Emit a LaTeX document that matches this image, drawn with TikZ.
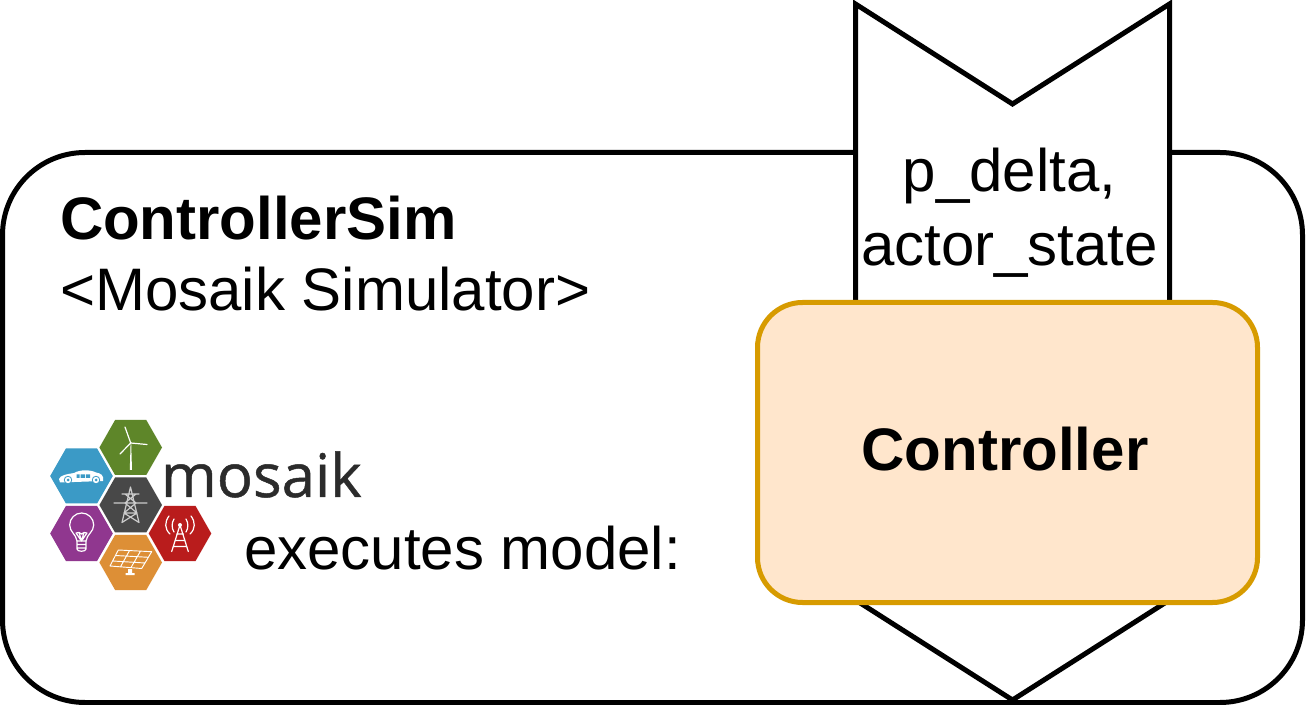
\documentclass[tikz,border=0pt]{standalone}
\usepackage{fontspec}
\setmainfont{Liberation Sans}
\newfontfamily\logofont[FakeBold=0.8]{Open Sans}
\definecolor{ctrlfill}{HTML}{FFE6CC}
\definecolor{ctrlline}{HTML}{D79B00}
\definecolor{hexgreen}{HTML}{5E8629}
\definecolor{hexblue}{HTML}{3B9AC6}
\definecolor{hexgray}{HTML}{484848}
\definecolor{hexpurple}{HTML}{90378F}
\definecolor{hexred}{HTML}{B91C1C}
\definecolor{hexorange}{HTML}{DD8F36}
\definecolor{logotext}{HTML}{2B2B2B}
\newcommand{\hexcell}[3]{\fill[#3] (#1-31.3,#2) -- (#1-15.6,#2-27.5) -- (#1+15.6,#2-27.5) -- (#1+31.3,#2) -- (#1+15.6,#2+27.5) -- (#1-15.6,#2+27.5) -- cycle;}
\tikzset{
  x=0.75pt,y=-0.75pt,
  frame/.style={draw=black,line width=3.75pt,rounded corners=61.9pt,fill=white,minimum width=975pt,minimum height=412.5pt,inner sep=0pt,outer sep=0pt},
  ctrl/.style={draw=ctrlline,fill=ctrlfill,line width=3.75pt,rounded corners=33.75pt,minimum width=375pt,minimum height=225pt,inner sep=0pt,outer sep=0pt},
  portshape/.style={draw=black,fill=white,line width=3.75pt,miter limit=10},
  lab/.style={font=\fontsize{45}{55.5}\selectfont,inner sep=0pt,outer sep=0pt,text=black},
  boldlab/.style={lab,font=\fontsize{45}{55.5}\selectfont\bfseries},
  ico/.style={draw=white,line width=0.9pt,line cap=round,line join=round},
}
\begin{document}
\begin{tikzpicture}
\useasboundingbox (0,0) rectangle (1310,705);
\node[frame] (sim) at (652.5,427.5) {};
\draw[portshape] (855.5,4) -- (1012.5,104) -- (1169.5,4) -- (1169.5,600) -- (1012.5,700) -- (855.5,600) -- cycle;
\node[ctrl] (controller) at (1007.5,452.5) {};
\node[boldlab,anchor=base] (ctrltext) at (1005,471) {Controller};
\node[lab,anchor=base] (portA) at (1009.5,192) {p\_delta,};
\node[lab,anchor=base] (portB) at (1009.5,266) {actor\_state};
\node[boldlab,anchor=base west] (title) at (60,240) {ControllerSim};
\node[lab,anchor=base west] (kind) at (60,311) {<Mosaik Simulator>};
\node[lab,anchor=base west] (exec) at (244,570) {executes model:};
% logo hexagons
\hexcell{130.7}{447.5}{hexgreen}
\hexcell{81.5}{476}{hexblue}
\hexcell{130.7}{505}{hexgray}
\hexcell{81.5}{533.5}{hexpurple}
\hexcell{180}{533.5}{hexred}
\hexcell{130.7}{562.5}{hexorange}
\node[inner sep=0pt,outer sep=0pt,anchor=base west,text=logotext,font=\logofont\fontsize{45}{50}\selectfont] (logo) at (161,497) {mosaik};
% turbine
\fill[white] (129.8,470) -- (130.6,443) -- (131.2,443) -- (132,470) -- cycle;
\draw[ico] (125,427) -- (130.7,443) -- (147,444.5);
\draw[ico] (130.7,443) -- (120,454);
% car
\fill[white] (59,479) .. controls (60,475) and (68,474) .. (74,473) .. controls (80,469.5) and (90,469.5) .. (96,472.5) .. controls (101,473.5) and (104,475) .. (103,481) -- (60,482.5) -- cycle;
\fill[hexblue] (76.5,474.5) rectangle (79.5,478) (80.5,474.5) rectangle (85,478) (86,474.5) rectangle (90,478);
\fill[hexblue] (68,480) circle (4.2) (96,480) circle (4.2);
\fill[white] (68,480) circle (3.2) (96,480) circle (3.2);
\fill[hexblue] (68,480) circle (1.5) (96,480) circle (1.5);
% pylon
\draw[ico,draw=white!80!black] (130.5,487) -- (122,522.5) (130.5,487) -- (139,522.5)
  (122,494) -- (139,494) (114,503) -- (147,503) (124,513) -- (137,513)
  (125,494) -- (136,503) (136,494) -- (125,503) (125,503) -- (137,513) (136,503) -- (124,513)
  (124,513) -- (139,522.5) (137,513) -- (122,522.5);
% bulb
\draw[ico] (77,541) .. controls (76,534) and (69.7,532) .. (69.7,525) arc[start angle=180,end angle=360,radius=12] .. controls (93.7,532) and (87,534) .. (86,541) -- cycle;
\draw[ico] (76,533) -- (81.5,541) -- (87,533) (79,532.5) -- (81.5,541) -- (84,532.5) (76,533) -- (79,532.5) -- (81.5,534) -- (84,532.5) -- (87,533);
\draw[ico] (77,541) -- (77,549) .. controls (77,552) and (86,552) .. (86,549) -- (86,541) (77,544.5) -- (86,544.5) (77,548) -- (86,548);
% antenna
\draw[ico] (180,525) -- (171.7,551.5) (180,525) -- (188.3,551.5) (176.6,534) -- (183.4,534) (175,540.5) -- (185,540.5) (173.5,546.5) -- (186.5,546.5);
\fill[white] (180,525) circle (2);
\draw[ico] (174,519) .. controls (171.5,523) and (171.5,528) .. (174,532)
           (186,519) .. controls (188.5,523) and (188.5,528) .. (186,532)
           (169,516) .. controls (164.5,522) and (164.5,529) .. (170,534)
           (191,516) .. controls (195.5,522) and (195.5,529) .. (190,534);
% solar panel
\draw[ico,line width=0.7pt] (118.3,550) -- (151.7,551.7) -- (141.7,568.5) -- (110,566) -- cycle
 (115.5,555.5) -- (148.5,557.3) (112.8,561) -- (145,563)
 (129.5,550.6) -- (120.5,566.8) (140.5,551.1) -- (131,567.6);
\fill[white] (128,569) rectangle (132,573) (125.5,573) rectangle (134.5,575);
\end{tikzpicture}
\end{document}
